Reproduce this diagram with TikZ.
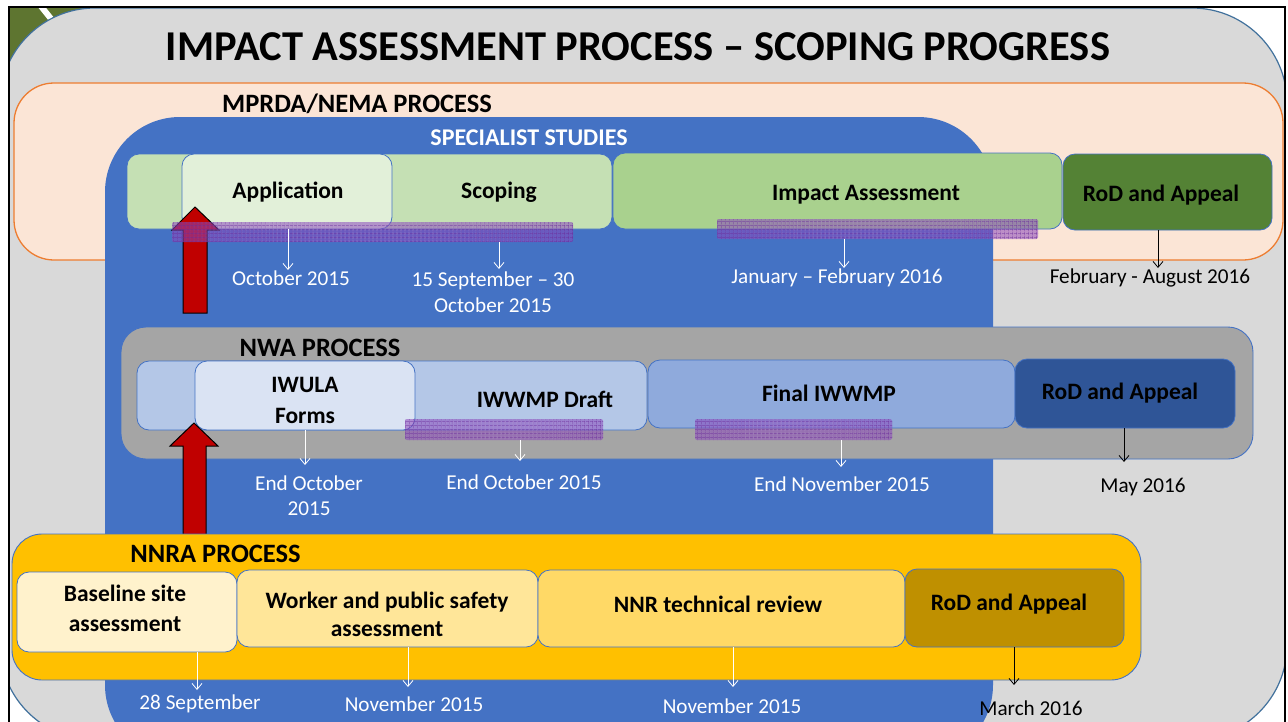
\documentclass[tikz,border=0pt]{standalone}
\usepackage{fontspec}
\setmainfont{Carlito}
\usetikzlibrary{arrows.meta,patterns.meta}
\definecolor{bggray}{HTML}{D9D9D9}
\definecolor{bgline}{HTML}{41719C}
\definecolor{olive}{HTML}{5E7530}
\definecolor{peach}{HTML}{FBE5D6}
\definecolor{orangeline}{HTML}{ED7D31}
\definecolor{specblue}{HTML}{4472C4}
\definecolor{boxline}{HTML}{4472C4}
\definecolor{gScope}{HTML}{C5E0B4}
\definecolor{gApp}{HTML}{E2F0D9}
\definecolor{gImpact}{HTML}{A9D18E}
\definecolor{gRod}{HTML}{548235}
\definecolor{nwagray}{HTML}{A5A5A5}
\definecolor{bDraft}{HTML}{B4C7E7}
\definecolor{bIwula}{HTML}{DAE3F3}
\definecolor{bFinal}{HTML}{8FAADC}
\definecolor{bRod}{HTML}{2F5597}
\definecolor{yNnra}{HTML}{FFC000}
\definecolor{yBase}{HTML}{FFF2CC}
\definecolor{yWork}{HTML}{FFE699}
\definecolor{yNnr}{HTML}{FFD966}
\definecolor{yRod}{HTML}{BF9000}
\definecolor{redarrow}{HTML}{C00000}
\definecolor{hatchpurple}{HTML}{8A48BC}
\definecolor{hatchline}{HTML}{6A2A9A}
\tikzset{
  stagebox/.style={draw=boxline, line width=0.8pt, rounded corners=12pt, inner sep=0pt},
  procbox/.style={draw=boxline, line width=0.9pt, inner sep=0pt},
  hatchbar/.style={fill=hatchpurple, fill opacity=0.55, inner sep=0pt, rounded corners=2pt,
    postaction={pattern={Lines[distance=4pt,angle=0,line width=0.45pt]}, pattern color=hatchline, fill opacity=0.65},
    postaction={pattern={Lines[distance=4pt,angle=90,line width=0.45pt]}, pattern color=hatchline, fill opacity=0.65}},
  lbl/.style={font=\fontsize{23.5}{30}\selectfont\bfseries, align=center, inner sep=0pt},
  head/.style={font=\fontsize{26.5}{30}\selectfont\bfseries, inner sep=0pt},
  datew/.style={font=\fontsize{21.2}{26}\selectfont, text=white, align=center, inner sep=0pt},
  datek/.style={datew, text=black},
  warr/.style={draw=white, line width=0.8pt, -{Straight Barb[length=6pt,width=10pt,line width=0.8pt]}},
  karr/.style={warr, draw=black},
  blockarrow/.style={fill=redarrow, draw=black, line width=1pt, line join=miter},
}
\begin{document}
\begin{tikzpicture}[x=1pt,y=-1pt]
\useasboundingbox (0,0) rectangle (1288,721);
\fill[white] (0,0) rectangle (1288,721);
% photo corner
\fill[olive] (9,7) rectangle (130,130);
\draw[white, line width=6pt] (36,0) -- (80,55);
% gray slide background
\begin{scope}
\clip (9,7) rectangle (1285,721);
\draw[fill=bggray, draw=bgline, line width=1.2pt, rounded corners=95pt] (0,8) rectangle (1287,740);
\end{scope}
% frame
\draw[black, line width=2.5pt] (9,740) -- (9,7) -- (1285,7) -- (1285,740);
% title
\node[font=\fontsize{42.5}{48}\selectfont\bfseries, inner sep=0pt] (title) at (638,47) {IMPACT ASSESSMENT PROCESS – SCOPING PROGRESS};
% MPRDA/NEMA
\node[procbox, draw=orangeline, line width=1.3pt, fill=peach, rounded corners=40pt, minimum width=1269pt, minimum height=177pt] (mprda) at (648.5,171.5) {};
\node[head, anchor=west] (mprdaT) at (222,104) {MPRDA/NEMA PROCESS};
% specialist studies
\node[fill=specblue, inner sep=0pt, rounded corners=75pt, minimum width=888pt, minimum height=643pt] (spec) at (549,438.5) {};
\node[head, font=\fontsize{24}{28}\selectfont\bfseries, text=white] (specT) at (529,138) {SPECIALIST STUDIES};
% green row
\node[stagebox, fill=gScope, minimum width=485pt, minimum height=75pt] (scope) at (369.5,191.5) {};
\node[stagebox, fill=gApp, minimum width=210pt, minimum height=75pt] (app) at (287,191.5) {};
\node[stagebox, fill=gImpact, minimum width=449pt, minimum height=76pt] (impact) at (837.5,191) {};
\node[stagebox, fill=gRod, minimum width=209pt, minimum height=76pt] (rodg) at (1167.5,192) {};
\node[lbl] (appT) at (288,192) {Application};
\node[lbl] (scopeT) at (499,192) {Scoping};
\node[lbl] (impactT) at (866,195) {Impact Assessment};
\node[lbl] (rodgT) at (1161,195) {RoD and Appeal};
% red arrow 1
\draw[blockarrow] (183,313) -- (183,230) -- (172,230) -- (195,207) -- (219,230) -- (207,230) -- (207,313) -- cycle;
\node[hatchbar, minimum width=401pt, minimum height=20pt] (h1) at (372.5,232) {};
\node[hatchbar, minimum width=321pt, minimum height=20pt] (h2) at (877.5,229) {};
% MPRDA dates
\coordinate (eApp) at (288,270);
\coordinate (eScope) at (499,269);
\coordinate (eImpact) at (844,268);
\coordinate (eRodg) at (1158,268);
\draw[warr] (app.south -| eApp) -- (eApp);
\draw[warr] (h1.south -| eScope) -- (eScope);
\draw[warr] (h2.south -| eImpact) -- (eImpact);
\draw[karr] (rodg.south -| eRodg) -- (eRodg);
\node[datew] (dApp) at (291,278) {October 2015};
\node[datew] (dScope) at (493,292) {15 September – 30\\[0pt]October 2015};
\node[datew] (dImpact) at (837,278) {January – February 2016};
\node[datek] (dRodg) at (1150,278) {February - August 2016};
% NWA
\node[procbox, fill=nwagray, rounded corners=25pt, minimum width=1132pt, minimum height=132pt] (nwa) at (687,393) {};
\node[head] (nwaT) at (320,348) {NWA PROCESS};
\node[stagebox, fill=bDraft, minimum width=510pt, minimum height=69pt] (draft) at (392,395.5) {};
\node[stagebox, fill=bIwula, minimum width=220pt, minimum height=69pt] (iwula) at (305,395.5) {};
\node[stagebox, fill=bFinal, minimum width=367pt, minimum height=68pt] (final) at (831.5,394) {};
\node[stagebox, fill=bRod, minimum width=220pt, minimum height=69pt] (rodb) at (1125,393.5) {};
\node[lbl, font=\fontsize{23.5}{31}\selectfont\bfseries] (iwulaT) at (305,400) {IWULA\\Forms};
\node[lbl] (draftT) at (545,399) {IWWMP Draft};
\node[lbl] (finalT) at (829,393) {Final IWWMP};
\node[lbl] (rodbT) at (1120,393) {RoD and Appeal};
% red arrow 2
\draw[blockarrow] (183,540) -- (183,446) -- (170,446) -- (194,423) -- (218,446) -- (206,446) -- (206,540) -- cycle;
\node[hatchbar, minimum width=198pt, minimum height=21pt] (h3) at (504,429.5) {};
\node[hatchbar, minimum width=197pt, minimum height=21pt] (h4) at (793.5,429.5) {};
\coordinate (eIwula) at (305,465);
\coordinate (eDraft) at (520,461);
\coordinate (eFinal) at (841,467);
\coordinate (eRodb) at (1124,462);
\draw[warr] (iwula.south -| eIwula) -- (eIwula);
\draw[warr] (h3.south -| eDraft) -- (eDraft);
\draw[warr] (h4.south -| eFinal) -- (eFinal);
\draw[karr] (rodb.south -| eRodb) -- (eRodb);
\node[datew, font=\fontsize{21.2}{25}\selectfont] (dIwula) at (309,495.5) {End October\\2015};
\node[datew] (dDraft) at (524,482) {End October 2015};
\node[datew] (dFinal) at (842,484) {End November 2015};
\node[datek] (dRodb) at (1143,487) {May 2016};
% NNRA
\node[procbox, fill=yNnra, rounded corners=30pt, minimum width=1129pt, minimum height=146pt] (nnra) at (576.5,607) {};
\node[head] (nnraT) at (215.5,554) {NNRA PROCESS};
\node[stagebox, fill=yBase, minimum width=220pt, minimum height=80pt] (base) at (127,612) {};
\node[stagebox, fill=yWork, minimum width=301pt, minimum height=77pt] (work) at (387.5,608.5) {};
\node[stagebox, fill=yNnr, minimum width=367pt, minimum height=77pt] (nnr) at (721.5,608.5) {};
\node[stagebox, fill=yRod, minimum width=219pt, minimum height=78pt] (rody) at (1014.5,608) {};
\node[lbl, font=\fontsize{23.5}{30}\selectfont\bfseries] (baseT) at (125,608) {Baseline site\\assessment};
\node[lbl, font=\fontsize{23.5}{28}\selectfont\bfseries] (workT) at (387,614) {Worker and public safety\\assessment};
\node[lbl] (nnrT) at (718,604) {NNR technical review};
\node[lbl] (rodyT) at (1009,604) {RoD and Appeal};
\coordinate (eBase) at (197,690);
\coordinate (eWork) at (408,687);
\coordinate (eNnr) at (733,687);
\coordinate (eRody) at (1014,685);
\draw[warr] (base.south -| eBase) -- (eBase);
\draw[warr] (work.south -| eWork) -- (eWork);
\draw[warr] (nnr.south -| eNnr) -- (eNnr);
\draw[karr] (rody.south -| eRody) -- (eRody);
\node[datew] (dBase) at (200,704) {28 September};
\node[datew] (dWork) at (414,704) {November 2015};
\node[datew] (dNnr) at (732,706) {November 2015};
\node[datek] (dRody) at (1031,708) {March 2016};
\end{tikzpicture}
\end{document}
